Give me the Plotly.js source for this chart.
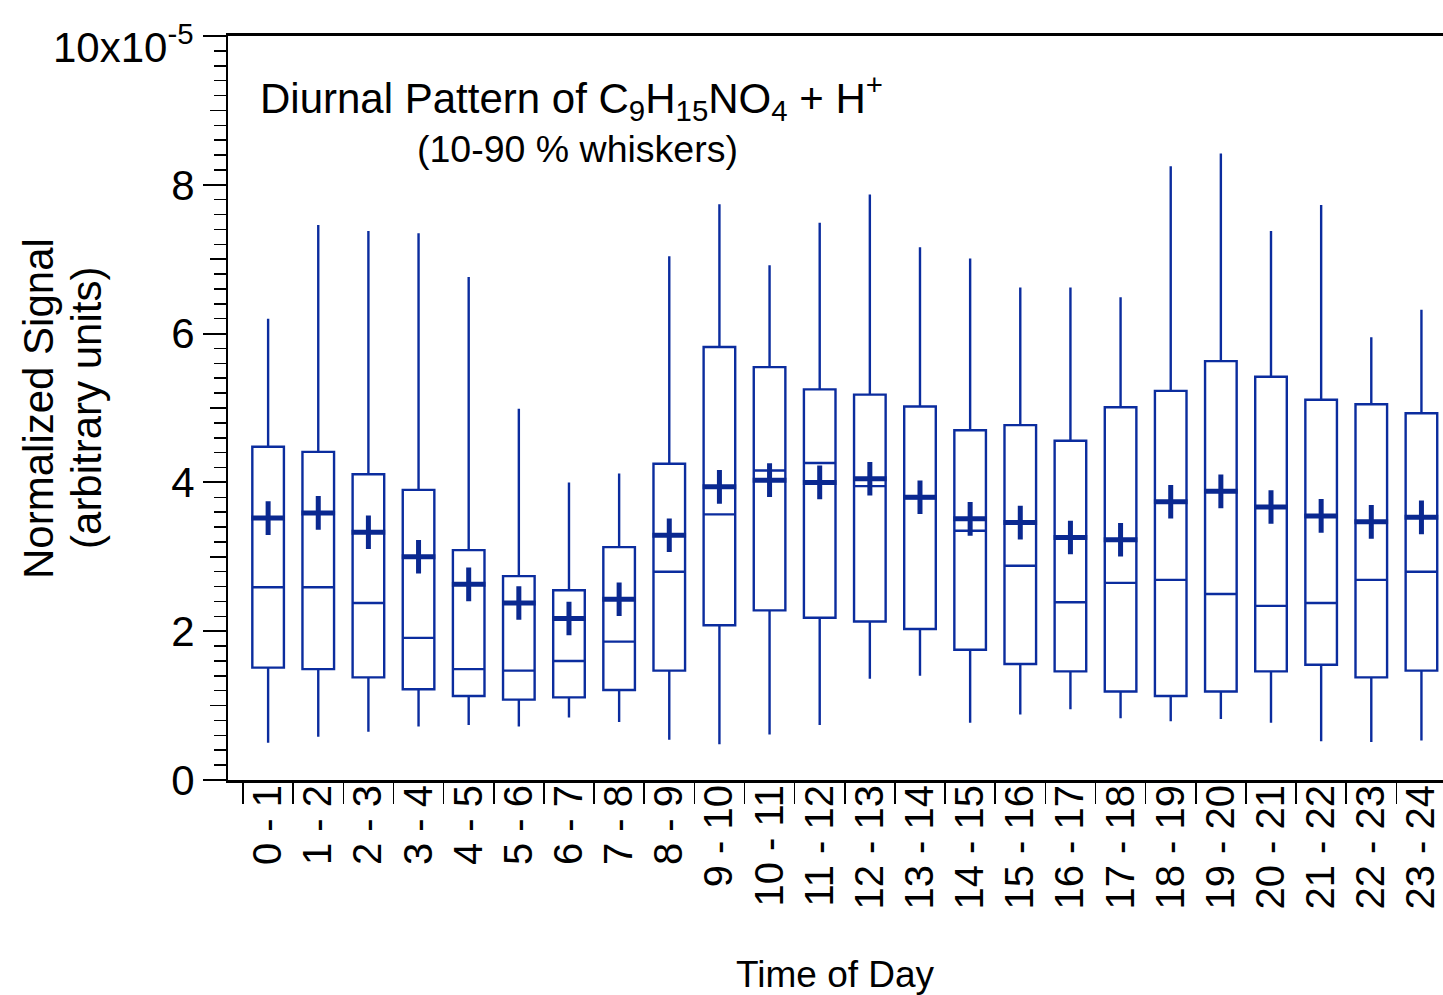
<!DOCTYPE html>
<html>
<head>
<meta charset="utf-8">
<script src="https://cdn.plot.ly/plotly-3.0.1.min.js"></script>
<style>html,body{margin:0;padding:0;background:#fff;}#chart{width:1443px;height:995px;}</style>
</head>
<body>
<div id="chart"></div>
<script>
// Values in units of 1e-5 (normalized signal)
const hourLabels = ["0 - 1","1 - 2","2 - 3","3 - 4","4 - 5","5 - 6","6 - 7","7 - 8","8 - 9","9 - 10","10 - 11","11 - 12","12 - 13","13 - 14","14 - 15","15 - 16","16 - 17","17 - 18","18 - 19","19 - 20","20 - 21","21 - 22","22 - 23","23 - 24"];
const p10    = [0.50,0.58,0.65,0.72,0.74,0.72,0.84,0.78,0.54,0.48,0.61,0.74,1.36,1.40,0.77,0.88,0.95,0.83,0.79,0.82,0.77,0.52,0.51,0.53];
const p25    = [1.51,1.49,1.38,1.22,1.13,1.08,1.11,1.21,1.47,2.08,2.28,2.18,2.13,2.03,1.75,1.56,1.46,1.19,1.13,1.19,1.46,1.55,1.38,1.47];
const median = [2.59,2.59,2.38,1.91,1.49,1.47,1.60,1.86,2.80,3.57,4.16,4.26,3.95,3.79,3.35,2.88,2.39,2.65,2.69,2.50,2.34,2.38,2.69,2.80];
const p75    = [4.48,4.41,4.11,3.90,3.09,2.74,2.55,3.13,4.25,5.82,5.55,5.25,5.18,5.02,4.70,4.77,4.56,5.01,5.23,5.63,5.42,5.11,5.05,4.93];
const p90    = [6.20,7.46,7.38,7.35,6.76,4.99,4.00,4.12,7.04,7.74,6.92,7.49,7.87,7.16,7.01,6.62,6.62,6.49,8.25,8.42,7.38,7.73,5.95,6.32];
const means  = [3.52,3.59,3.33,3.00,2.63,2.38,2.17,2.43,3.29,3.94,4.03,4.00,4.05,3.80,3.51,3.46,3.26,3.23,3.74,3.88,3.67,3.55,3.47,3.53];
const yTickVals = [0,2,4,6,8,10];
const yTickText = ["0","2","4","6","8",""];
const yTopLabel = "10x10<sup>-5</sup>";
const oddTickVals = [1,3,5,7,9];

const boxColor = "#0B2C9E";
const meanColor = "#0A2890";
const FONT = "Liberation Sans, Arial, sans-serif";

const traces = [
  {
    type: "box",
    x: hourLabels,
    q1: p25, median: median, q3: p75,
    lowerfence: p10, upperfence: p90,
    boxpoints: false,
    width: 0.63,
    whiskerwidth: 0,
    fillcolor: "rgba(0,0,0,0)",
    line: {color: boxColor, width: 2.4},
    hoverinfo: "skip",
    showlegend: false
  },
  {
    type: "scatter",
    mode: "markers",
    x: hourLabels,
    y: means,
    marker: {symbol: "cross-thin", size: 24, color: meanColor, line: {color: meanColor, width: 5}},
    showlegend: false,
    hoverinfo: "skip"
  },
  {
    type: "scatter", mode: "markers", x: [hourLabels[0]], y: [null],
    yaxis: "y2", showlegend: false, hoverinfo: "skip"
  }
];

const layout = {
  width: 1443, height: 995,
  margin: {l: 228, r: 0, t: 36, b: 215},
  paper_bgcolor: "#fff", plot_bgcolor: "#fff",
  font: {family: FONT, color: "#000"},
  showlegend: false,
  xaxis: {
    type: "category",
    range: [-0.8, 23.43],
    showgrid: false, zeroline: false,
    showline: true, linecolor: "#000", linewidth: 3, mirror: true,
    ticks: "outside", tickson: "boundaries", ticklen: 21, tickwidth: 1.5, tickcolor: "#000",
    tickangle: -90,
    ticklabelstandoff: -14,
    tickfont: {size: 40, family: FONT, color: "#000"}
  },
  yaxis: {
    range: [0, 10],
    showgrid: false, zeroline: false,
    showline: true, linecolor: "#000", linewidth: 2,
    ticks: "outside", ticklen: 23, tickwidth: 2, tickcolor: "#000",
    tickvals: yTickVals, ticktext: yTickText,
    tickfont: {size: 42, family: FONT, color: "#000"},
    minor: {dtick: 0.2, ticks: "outside", ticklen: 12, tickwidth: 1.5, tickcolor: "#000", showgrid: false}
  },
  yaxis2: {
    overlaying: "y", side: "left", range: [0, 10],
    showgrid: false, zeroline: false, showline: false,
    ticks: "outside", ticklen: 17, tickwidth: 1.5, tickcolor: "#000",
    tickvals: oddTickVals, showticklabels: false
  },
  annotations: [
    {
      xref: "paper", yref: "paper", x: -0.026, y: 0.9892, xanchor: "right", yanchor: "middle",
      text: yTopLabel, showarrow: false, font: {size: 42, family: FONT, color: "#000"}
    },
    {
      xref: "paper", yref: "paper", x: -0.1564, y: 0.5, xanchor: "center", yanchor: "middle",
      text: "Normalized Signal", textangle: -90,
      showarrow: false, font: {size: 42, family: FONT, color: "#000"}
    },
    {
      xref: "paper", yref: "paper", x: -0.1169, y: 0.5, xanchor: "center", yanchor: "middle",
      text: "(arbitrary units)", textangle: -90,
      showarrow: false, font: {size: 42, family: FONT, color: "#000"}
    },
    {
      xref: "paper", yref: "paper", x: 0.0247, y: 0.918, xanchor: "left", yanchor: "middle",
      text: "Diurnal Pattern of C<sub>9</sub>H<sub>15</sub>NO<sub>4</sub> + H<sup>+</sup>",
      showarrow: false, font: {size: 42, family: FONT, color: "#000"}
    },
    {
      xref: "paper", yref: "paper", x: 0.288, y: 0.848, xanchor: "center", yanchor: "middle",
      text: "(10-90 % whiskers)",
      showarrow: false, font: {size: 37.5, family: FONT, color: "#000"}
    },
    {
      xref: "paper", yref: "paper", x: 0.5, y: -0.262, xanchor: "center", yanchor: "middle",
      text: "Time of Day",
      showarrow: false, font: {size: 37, family: FONT, color: "#000"}
    }
  ]
};

Plotly.newPlot("chart", traces, layout, {displayModeBar: false, staticPlot: true});
</script>
</body>
</html>
